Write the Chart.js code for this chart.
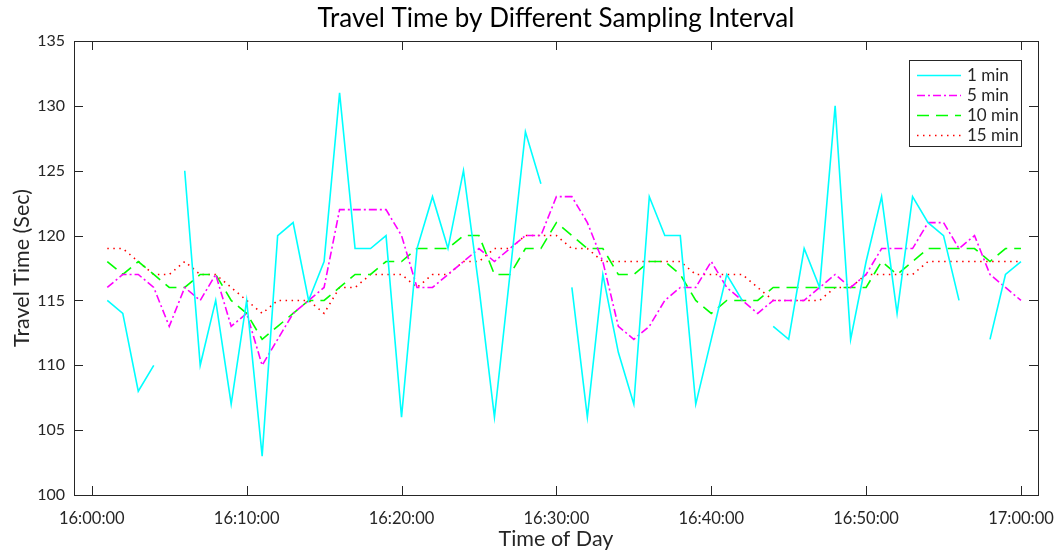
<!DOCTYPE html>
<html>
<head>
<meta charset="utf-8">
<title>Travel Time by Different Sampling Interval</title>
<script src="https://cdn.jsdelivr.net/npm/chart.js@4.4.1/dist/chart.umd.min.js"></script>
<style>
  html, body { margin: 0; padding: 0; background: #fff; }
  #chart { display: block; }
</style>
</head>
<body>
<canvas id="chart" width="1058" height="552"></canvas>
<script>
// minutes after 16:00:00
var minutes = [1, 2, 3, 4, 5, 6, 7, 8, 9, 10, 11, 12, 13, 14, 15, 16, 17, 18, 19, 20,
  21, 22, 23, 24, 25, 26, 27, 28, 29, 30, 31, 32, 33, 34, 35, 36, 37, 38, 39, 40,
  41, 42, 43, 44, 45, 46, 47, 48, 49, 50, 51, 52, 53, 54, 55, 56, 57, 58, 59, 60];

// travel time (sec) per sampling interval, null = no sample
var oneMin = [115, 114, 108, 110, null, 125, 110, 115, 107, 115, 103, 120, 121, 115, 118, 131, 119, 119, 120, 106,
  119, 123, 119, 125, 116, 106, 117, 128, 124, null, 116, 106, 117, 111, 107, 123, 120, 120, 107, 112,
  117, 115, null, 113, 112, 119, 116, 130, 112, 118, 123, 114, 123, 121, 120, 115, null, 112, 117, 118];
var fiveMin = [116, 117, 117, 116, 113, 116, 115, 117, 113, 114, 110, 112, 114, 115, 116, 122, 122, 122, 122, 120,
  116, 116, 117, 118, 119, 118, 119, 120, 120, 123, 123, 121, 118, 113, 112, 113, 115, 116, 116, 118,
  116, 115, 114, 115, 115, 115, 116, 117, 116, 117, 119, 119, 119, 121, 121, 119, 120, 117, 116, 115];
var tenMin = [118, 117, 118, 117, 116, 116, 117, 117, 115, 114, 112, 113, 114, 115, 115, 116, 117, 117, 118, 118,
  119, 119, 119, 120, 120, 117, 117, 119, 119, 121, 120, 119, 119, 117, 117, 118, 118, 117, 115, 114,
  115, 115, 115, 116, 116, 116, 116, 116, 116, 116, 118, 117, 118, 119, 119, 119, 119, 118, 119, 119];
var fifteenMin = [119, 119, 118, 117, 117, 118, 117, 117, 116, 115, 114, 115, 115, 115, 114, 116, 116, 117, 117, 117,
  116, 117, 117, 118, 118, 119, 119, 120, 120, 120, 119, 119, 118, 118, 118, 118, 118, 118, 117, 117,
  117, 117, 116, 115, 115, 115, 115, 116, 116, 117, 117, 117, 117, 118, 118, 118, 118, 118, 118, 118];

var tickMinutes = [0, 10, 20, 30, 40, 50, 60];
var tickLabels = ['16:00:00', '16:10:00', '16:20:00', '16:30:00', '16:40:00', '16:50:00', '17:00:00'];
var yTicks = [100, 105, 110, 115, 120, 125, 130, 135];

var TITLE = 'Travel Time by Different Sampling Interval';
var FONT = 'Lato, "Open Sans", sans-serif';
var AXIS = '#262626';

function points(values) {
  return minutes.map(function (m, i) { return { x: m, y: values[i] }; });
}

function series(label, values, color, dash) {
  return {
    label: label,
    data: points(values),
    borderColor: color,
    backgroundColor: color,
    borderWidth: 1.6,
    borderDash: dash,
    pointRadius: 0,
    tension: 0,
    spanGaps: false
  };
}

// box round the axes with inward tick marks on all four sides, title centred over the axes
var frame = {
  id: 'frame',
  afterDatasetsDraw: function (chart) {
    var ctx = chart.ctx, a = chart.chartArea;
    var sx = chart.scales.x, sy = chart.scales.y;
    ctx.save();
    ctx.strokeStyle = AXIS;
    ctx.lineWidth = 1;
    ctx.strokeRect(a.left + 0.5, a.top + 0.5, a.right - a.left, a.bottom - a.top);
    ctx.beginPath();
    tickMinutes.forEach(function (m) {
      var px = Math.round(sx.getPixelForValue(m)) + 0.5;
      ctx.moveTo(px, a.bottom); ctx.lineTo(px, a.bottom - 9);
      ctx.moveTo(px, a.top); ctx.lineTo(px, a.top + 9);
    });
    yTicks.forEach(function (v) {
      var py = Math.round(sy.getPixelForValue(v)) + 0.5;
      ctx.moveTo(a.left, py); ctx.lineTo(a.left + 9, py);
      ctx.moveTo(a.right, py); ctx.lineTo(a.right - 9, py);
    });
    ctx.stroke();

    ctx.fillStyle = '#000';
    ctx.font = '26px ' + FONT;
    ctx.textAlign = 'center';
    ctx.textBaseline = 'middle';
    ctx.fillText(TITLE, (a.left + a.right) / 2, 19);
    ctx.restore();
  }
};

// legend box in the top right corner of the axes
var legendBox = {
  id: 'legendBox',
  afterDraw: function (chart) {
    var ctx = chart.ctx, a = chart.chartArea;
    var w = 112, h = 86;
    var left = a.right - 17 - w, top = a.top + 19;
    ctx.save();
    ctx.fillStyle = '#fff';
    ctx.fillRect(left, top, w, h);
    ctx.strokeStyle = AXIS;
    ctx.lineWidth = 1;
    ctx.strokeRect(left + 0.5, top + 0.5, w, h);
    ctx.font = '17px ' + FONT;
    ctx.textBaseline = 'middle';
    chart.data.datasets.forEach(function (ds, i) {
      var yy = top + 15 + i * 20;
      ctx.beginPath();
      ctx.setLineDash(ds.borderDash || []);
      ctx.strokeStyle = ds.borderColor;
      ctx.lineWidth = ds.borderWidth;
      ctx.moveTo(left + 8, yy + 0.5);
      ctx.lineTo(left + 52, yy + 0.5);
      ctx.stroke();
      ctx.setLineDash([]);
      ctx.fillStyle = AXIS;
      ctx.fillText(ds.label, left + 58, yy + 1);
    });
    ctx.restore();
  }
};

var chart = new Chart(document.getElementById('chart'), {
  type: 'line',
  data: {
    datasets: [
      series('1 min', oneMin, '#00FFFF', []),
      series('5 min', fiveMin, '#FF00FF', [8, 3, 2, 3]),
      series('10 min', tenMin, '#00FF00', [12, 7]),
      series('15 min', fifteenMin, '#FF0000', [1.5, 4.5])
    ]
  },
  options: {
    responsive: false,
    animation: false,
    layout: { padding: { left: 0, right: 20, top: 41, bottom: 0 } },
    plugins: {
      legend: { display: false },
      tooltip: { enabled: false },
      title: { display: false }
    },
    scales: {
      x: {
        type: 'linear',
        min: -1.15,
        max: 61.1,
        afterBuildTicks: function (scale) {
          scale.ticks = tickMinutes.map(function (v) { return { value: v }; });
        },
        afterFit: function (scale) {
          scale.height = 57;
          scale.paddingLeft = 0;
          scale.paddingRight = 0;
        },
        ticks: {
          color: AXIS,
          font: { family: FONT, size: 16.5 },
          padding: 14,
          maxRotation: 0,
          autoSkip: false,
          callback: function (v) { return tickLabels[tickMinutes.indexOf(v)]; }
        },
        grid: { display: false, drawTicks: false },
        border: { display: false },
        title: {
          display: true,
          text: 'Time of Day',
          color: AXIS,
          font: { family: FONT, size: 21.5 },
          padding: { top: 0, bottom: 0 }
        }
      },
      y: {
        min: 100,
        max: 135,
        afterBuildTicks: function (scale) {
          scale.ticks = yTicks.map(function (v) { return { value: v }; });
        },
        afterFit: function (scale) {
          scale.width = 74;
          scale.paddingTop = 0;
          scale.paddingBottom = 0;
        },
        ticks: {
          color: AXIS,
          font: { family: FONT, size: 16 },
          padding: 9
        },
        grid: { display: false, drawTicks: false },
        border: { display: false },
        title: {
          display: true,
          text: 'Travel Time (Sec)',
          color: AXIS,
          font: { family: FONT, size: 21.5 },
          padding: { top: 9, bottom: 0 }
        }
      }
    }
  },
  plugins: [frame, legendBox]
});
</script>
</body>
</html>
